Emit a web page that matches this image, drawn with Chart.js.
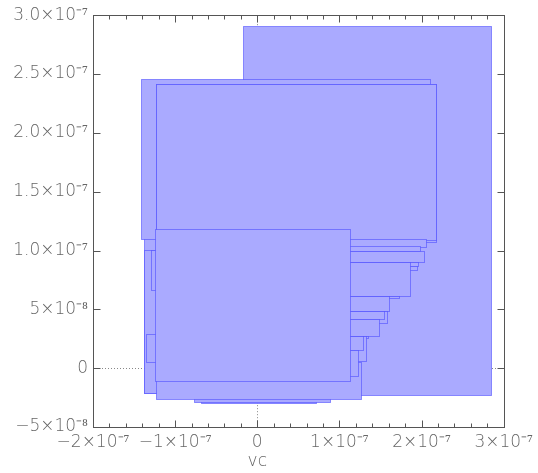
<!DOCTYPE html>
<html>
<head>
<meta charset="utf-8">
<script src="https://cdn.jsdelivr.net/npm/chart.js@4.4.1/dist/chart.umd.min.js"></script>
<style>
  html, body { margin: 0; padding: 0; background: #fff; }
</style>
</head>
<body>
<canvas id="boxChart" width="538" height="473"></canvas>
<script>
// axis ticks
const xTickValues = [-2e-7, -1e-7, 0, 1e-7, 2e-7, 3e-7];
const xTickLabels = ['\u22122\u00d710\u207b\u2077', '\u22121\u00d710\u207b\u2077', '0', '1\u00d710\u207b\u2077', '2\u00d710\u207b\u2077', '3\u00d710\u207b\u2077'];
const yTickValues = [-5e-8, 0, 5e-8, 1e-7, 1.5e-7, 2e-7, 2.5e-7, 3e-7];
const yTickLabels = ['\u22125\u00d710\u207b\u2078', '0', '5\u00d710\u207b\u2078', '1.0\u00d710\u207b\u2077', '1.5\u00d710\u207b\u2077', '2.0\u00d710\u207b\u2077', '2.5\u00d710\u207b\u2077', '3.0\u00d710\u207b\u2077'];

// rectangles, back to front (vc on x, second quantity on y)
const boxLeft   = [-17.4e-9, -68.0e-9, -77.4e-9, -137.9e-9, -137.9e-9, -129.4e-9, -135.8e-9, -141.6e-9, -123.7e-9, -123.7e-9, -122.8e-9,
                   -120e-9, -120e-9, -120e-9, -120e-9, -120e-9, -120e-9, -120e-9, -120e-9, -120e-9, -120e-9, -120e-9, -120e-9, -120e-9, -120e-9, -120e-9, -124.5e-9];
const boxRight  = [284.2e-9, 71.1e-9, 89.0e-9, 100e-9, 100e-9, 100e-9, 100e-9, 210.8e-9, 218.1e-9, 218.1e-9, 126.8e-9,
                   205.0e-9, 198.6e-9, 203.4e-9, 196.1e-9, 194.9e-9, 185.5e-9, 172.5e-9, 160.4e-9, 157.9e-9, 154.3e-9, 148.2e-9, 135.3e-9, 132.4e-9, 128.7e-9, 123.1e-9, 112.9e-9];
const boxBottom = [-22.7e-9, -29.3e-9, -28.4e-9, -20.8e-9, -20.8e-9, 66.1e-9, 5.6e-9, 109.6e-9, 107.1e-9, 109.0e-9, -26.5e-9,
                   102.8e-9, 99.9e-9, 90.1e-9, 86.9e-9, 83.5e-9, 61.2e-9, 59.3e-9, 48.9e-9, 38.2e-9, 41.9e-9, 27.4e-9, 25.7e-9, 5.9e-9, 15.3e-9, -6.6e-9, -11.2e-9];
const boxTop    = [291.2e-9, -10e-9, -10e-9, 115e-9, 100.5e-9, 100.5e-9, 28.9e-9, 245.6e-9, 241.4e-9, 241.4e-9, 5.6e-9,
                   109.6e-9, 103.7e-9, 99.9e-9, 90.1e-9, 86.9e-9, 90.1e-9, 61.2e-9, 61.2e-9, 48.9e-9, 48.9e-9, 41.9e-9, 27.4e-9, 27.4e-9, 27.4e-9, 15.3e-9, 118.1e-9];

const labelFont = { family: 'DejaVu Sans', size: 17, weight: 200 };
const textColor = '#666';

function labelFor(values, labels, v) {
  let best = 0;
  for (let i = 1; i < values.length; i++) {
    if (Math.abs(values[i] - v) < Math.abs(values[best] - v)) best = i;
  }
  return labels[best];
}

const crisp = v => Math.round(v) + 0.5;

const boxesPlugin = {
  id: 'boxes',
  beforeDatasetsDraw(chart) {
    const { ctx, chartArea: a, scales: { x, y } } = chart;
    ctx.save();
    // dotted zero lines
    ctx.strokeStyle = '#888';
    ctx.lineWidth = 1;
    ctx.setLineDash([1, 2]);
    ctx.beginPath();
    ctx.moveTo(a.left, crisp(y.getPixelForValue(0)));
    ctx.lineTo(a.right, crisp(y.getPixelForValue(0)));
    ctx.moveTo(crisp(x.getPixelForValue(0)), a.top);
    ctx.lineTo(crisp(x.getPixelForValue(0)), a.bottom);
    ctx.stroke();
    ctx.setLineDash([]);

    for (let i = 0; i < boxLeft.length; i++) {
      const x1 = crisp(x.getPixelForValue(boxLeft[i]));
      const x2 = crisp(x.getPixelForValue(boxRight[i]));
      const y1 = crisp(y.getPixelForValue(boxTop[i]));
      const y2 = crisp(y.getPixelForValue(boxBottom[i]));
      ctx.fillStyle = '#aaaaff';
      ctx.fillRect(x1, y1, x2 - x1, y2 - y1);
      ctx.strokeStyle = 'rgba(70,70,255,0.55)';
      ctx.strokeRect(x1, y1, x2 - x1, y2 - y1);
    }
    ctx.restore();
  },
  afterDraw(chart) {
    const { ctx, chartArea: a, scales: { x, y } } = chart;
    ctx.save();
    ctx.strokeStyle = '#555';
    ctx.lineWidth = 1;
    const L = crisp(a.left), R = crisp(a.right), T = crisp(a.top), B = crisp(a.bottom);
    ctx.strokeRect(L, T, R - L, B - T);

    ctx.beginPath();
    // x major and minor ticks, bottom and top, pointing inward
    for (let i = 0; i < xTickValues.length; i++) {
      const px = crisp(x.getPixelForValue(xTickValues[i]));
      ctx.moveTo(px, B); ctx.lineTo(px, B - 7);
      ctx.moveTo(px, T); ctx.lineTo(px, T + 7);
      if (i < xTickValues.length - 1) {
        const step = (xTickValues[i + 1] - xTickValues[i]) / 5;
        for (let k = 1; k < 5; k++) {
          const mx = crisp(x.getPixelForValue(xTickValues[i] + k * step));
          ctx.moveTo(mx, B); ctx.lineTo(mx, B - 4);
          ctx.moveTo(mx, T); ctx.lineTo(mx, T + 4);
        }
      }
    }
    // y major ticks, left and right
    for (const v of yTickValues) {
      const py = crisp(y.getPixelForValue(v));
      ctx.moveTo(L, py); ctx.lineTo(L + 7, py);
      ctx.moveTo(R, py); ctx.lineTo(R - 7, py);
    }
    ctx.stroke();

    // axis title under the zero of the horizontal axis
    ctx.fillStyle = textColor;
    ctx.font = `${labelFont.weight} ${labelFont.size}px "${labelFont.family}"`;
    ctx.textAlign = 'center';
    ctx.textBaseline = 'middle';
    ctx.fillText('vc', x.getPixelForValue(0), 462);
    ctx.restore();
  }
};

new Chart(document.getElementById('boxChart'), {
  type: 'scatter',
  data: { datasets: [] },
  options: {
    responsive: false,
    animation: false,
    layout: { padding: { top: 15, right: 34, left: 0, bottom: 0 } },
    plugins: { legend: { display: false }, tooltip: { enabled: false } },
    scales: {
      x: {
        type: 'linear',
        min: -2e-7,
        max: 3e-7,
        grid: { display: false, drawTicks: false },
        border: { display: false },
        afterFit: scale => { scale.height = 46; },
        ticks: {
          stepSize: 1e-7,
          autoSkip: false,
          maxRotation: 0,
          padding: 5,
          color: textColor,
          font: labelFont,
          callback: v => labelFor(xTickValues, xTickLabels, v)
        }
      },
      y: {
        type: 'linear',
        min: -5e-8,
        max: 3e-7,
        grid: { display: false, drawTicks: false },
        border: { display: false },
        afterFit: scale => { scale.width = 93; },
        ticks: {
          stepSize: 5e-8,
          autoSkip: false,
          padding: 5,
          color: textColor,
          font: labelFont,
          callback: v => labelFor(yTickValues, yTickLabels, v)
        }
      }
    }
  },
  plugins: [boxesPlugin]
});
</script>
</body>
</html>
